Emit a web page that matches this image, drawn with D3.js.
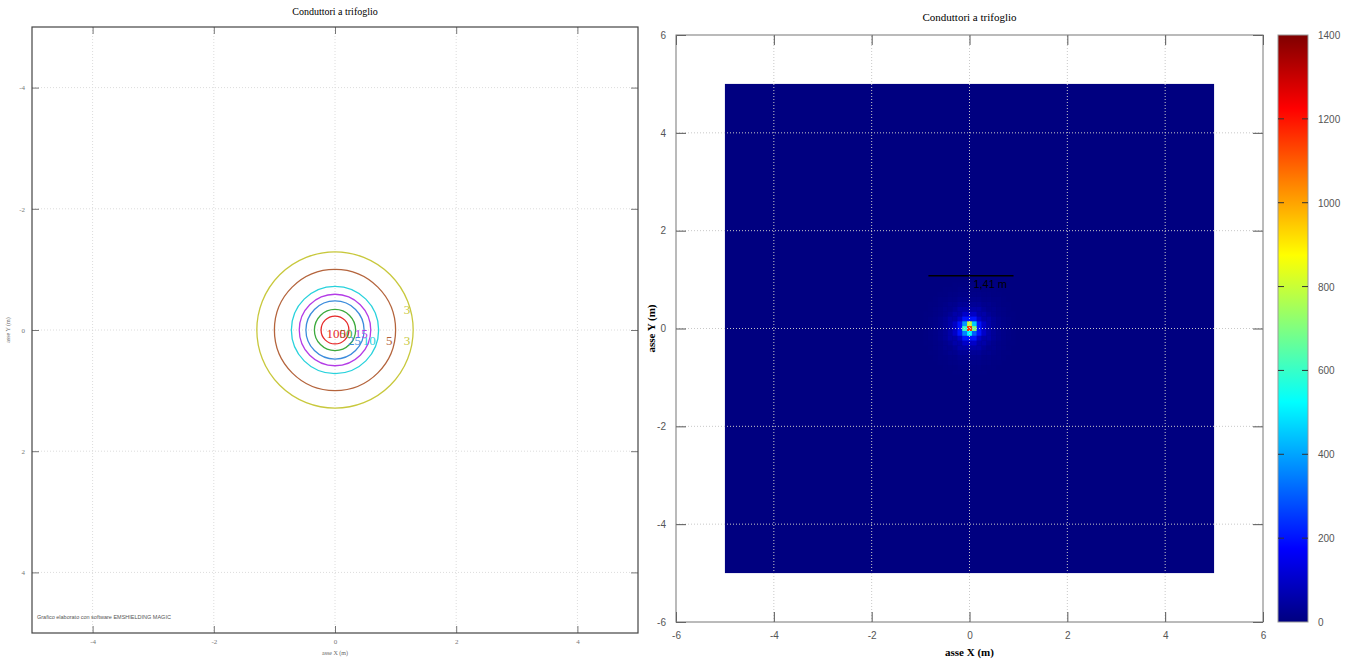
<!DOCTYPE html>
<html>
<head>
<meta charset="utf-8">
<script src="https://cdn.jsdelivr.net/npm/d3@7"></script>
<style>
  body { margin: 0; background: #fff; }
</style>
</head>
<body>
<svg width="1352" height="662"></svg>
<script>
// ---- data ----
const chartTitle = "Conduttori a trifoglio";
const leftTicks = [-4, -2, 0, 2, 4];
const contourLevels = [3, 5, 10, 15, 25, 50, 100];
const contourRadii = [1.29, 1.0, 0.72, 0.59, 0.48, 0.34, 0.23];   // metres
const contourColors = ["#c8c83c", "#b4643c", "#28d2dc", "#b43ce6", "#3c8cdc", "#3caa3c", "#e62828"];
const footNote = "Grafico elaborato con software EMSHIELDING MAGIC";

const rightTicks = [-6, -4, -2, 0, 2, 4, 6];
const colorTicks = [0, 200, 400, 600, 800, 1000, 1200, 1400];
const fieldExtent = [-5, 5];
const cellSize = 0.1;
// 3x3 cells round the centre, rows from top (y=+0.1) to bottom (y=-0.1)
const heatCore = [
  [380, 800, 450],
  [600, 1150, 700],
  [350, 520, 300]
];
// value of the cells by ring (distance in cells from the centre)
const heatRings = [0, 0, 200, 100, 55, 32, 20, 12, 7, 3];
const spanX = [-0.84, 0.9];
const spanY = 1.08;
const spanText = "1,41 m";

const svg = d3.select("svg");
const plain = d => String(d);

// jet colour map
function jet(t) {
  const c = v => Math.round(255 * Math.max(0, Math.min(1, v)));
  return `rgb(${c(1.5 - Math.abs(4 * t - 3))},${c(1.5 - Math.abs(4 * t - 2))},${c(1.5 - Math.abs(4 * t - 1))})`;
}

// ================= left chart: contour lines =================
const xL = d3.scaleLinear([-5, 5], [32, 638]);
const yL = d3.scaleLinear([-5, 5], [27, 633]);
const left = svg.append("g");

left.append("text")
    .attr("x", xL(0)).attr("y", 15)
    .attr("text-anchor", "middle")
    .attr("font-family", "Liberation Serif").attr("font-size", 10)
    .text(chartTitle);

// grid
left.selectAll(".gx").data(leftTicks).join("line")
    .attr("x1", d => xL(d)).attr("x2", d => xL(d))
    .attr("y1", yL(-5)).attr("y2", yL(5))
    .attr("stroke", "#dcdcdc").attr("stroke-dasharray", "1,2");
left.selectAll(".gy").data(leftTicks).join("line")
    .attr("y1", d => yL(d)).attr("y2", d => yL(d))
    .attr("x1", xL(-5)).attr("x2", xL(5))
    .attr("stroke", "#dcdcdc").attr("stroke-dasharray", "1,2");

function styleLeftAxis(g) {
  g.select(".domain").remove();
  g.selectAll(".tick line").attr("stroke", "#777");
  g.selectAll("text").attr("font-family", "Liberation Serif").attr("font-size", 7).attr("fill", "#777");
}
left.append("g").attr("transform", `translate(0,${yL(5)})`)
    .call(d3.axisBottom(xL).tickValues(leftTicks).tickFormat(plain).tickSize(-7).tickPadding(6))
    .call(styleLeftAxis);
left.append("g").attr("transform", `translate(0,${yL(-5)})`)
    .call(d3.axisTop(xL).tickValues(leftTicks).tickSize(-7).tickFormat(""))
    .call(styleLeftAxis);
left.append("g").attr("transform", `translate(${xL(-5)},0)`)
    .call(d3.axisLeft(yL).tickValues(leftTicks).tickFormat(plain).tickSize(-7).tickPadding(7))
    .call(styleLeftAxis);
left.append("g").attr("transform", `translate(${xL(5)},0)`)
    .call(d3.axisRight(yL).tickValues(leftTicks).tickSize(-7).tickFormat(""))
    .call(styleLeftAxis);

left.append("rect")
    .attr("x", xL(-5)).attr("y", yL(-5))
    .attr("width", xL(5) - xL(-5)).attr("height", yL(5) - yL(-5))
    .attr("fill", "none").attr("stroke", "#444").attr("stroke-width", 1.2);

// contours
const contours = contourLevels.map((v, i) => ({ v, r: contourRadii[i], c: contourColors[i] }));
left.selectAll(".ct").data(contours).join("circle")
    .attr("cx", xL(0)).attr("cy", yL(0))
    .attr("r", d => xL(d.r) - xL(0))
    .attr("fill", "none").attr("stroke", d => d.c).attr("stroke-width", 1.3);

left.selectAll(".cl").data(contours).join("text")
    .attr("x", d => xL(d.r) - 3)
    .attr("y", d => yL(0) + (d.r < 0.4 || d.v === 15 ? 8 : 15))
    .attr("text-anchor", "end")
    .attr("font-family", "Liberation Serif").attr("font-size", 13)
    .attr("fill", d => d.c)
    .text(d => d.v);
// second label on the outer line
left.append("text")
    .attr("x", xL(contours[0].r) - 3).attr("y", yL(0) - 16)
    .attr("text-anchor", "end")
    .attr("font-family", "Liberation Serif").attr("font-size", 13)
    .attr("fill", contours[0].c)
    .text(contours[0].v);

left.append("text")
    .attr("x", xL(0)).attr("y", 655)
    .attr("text-anchor", "middle")
    .attr("font-family", "Liberation Serif").attr("font-size", 6).attr("fill", "#666")
    .text("asse X (m)");
left.append("text")
    .attr("transform", `translate(10,${yL(0)}) rotate(-90)`)
    .attr("text-anchor", "middle")
    .attr("font-family", "Liberation Serif").attr("font-size", 6).attr("fill", "#666")
    .text("asse Y (m)");
left.append("text")
    .attr("x", 37).attr("y", 619)
    .attr("font-family", "Liberation Sans").attr("font-size", 5.5).attr("fill", "#555")
    .text(footNote);

// ================= right chart: heat map =================
const xR = d3.scaleLinear([-6, 6], [676, 1263]);
const yR = d3.scaleLinear([-6, 6], [622, 35]);
const color = d3.scaleSequential(jet).domain([0, 1400]);
const right = svg.append("g");

right.append("text")
    .attr("x", xR(0)).attr("y", 21)
    .attr("text-anchor", "middle")
    .attr("font-family", "Liberation Serif").attr("font-size", 11)
    .text(chartTitle);

right.append("rect")
    .attr("x", xR(fieldExtent[0])).attr("y", yR(fieldExtent[1]))
    .attr("width", xR(fieldExtent[1]) - xR(fieldExtent[0]))
    .attr("height", yR(fieldExtent[0]) - yR(fieldExtent[1]))
    .attr("fill", color(0));

const cells = [];
const n = heatRings.length - 1;
for (let i = -n; i <= n; i++) {
  for (let j = -n; j <= n; j++) {
    const d = Math.round(Math.hypot(i, j));
    if (d >= heatRings.length) continue;
    const v = d <= 1 ? heatCore[1 - j][i + 1] : heatRings[d];
    if (v > 0) cells.push({ x: i * cellSize, y: j * cellSize, v });
  }
}
right.selectAll(".cell").data(cells).join("rect")
    .attr("x", d => xR(d.x - cellSize / 2))
    .attr("y", d => yR(d.y + cellSize / 2))
    .attr("width", xR(cellSize) - xR(0))
    .attr("height", yR(0) - yR(cellSize))
    .attr("fill", d => color(d.v));

// grid
const inner = rightTicks.slice(1, -1);
right.selectAll(".gx").data(inner).join("line")
    .attr("x1", d => xR(d)).attr("x2", d => xR(d))
    .attr("y1", yR(-6)).attr("y2", yR(6))
    .attr("stroke", "#c8c8c8").attr("stroke-dasharray", "1,2");
right.selectAll(".gy").data(inner).join("line")
    .attr("y1", d => yR(d)).attr("y2", d => yR(d))
    .attr("x1", xR(-6)).attr("x2", xR(6))
    .attr("stroke", "#c8c8c8").attr("stroke-dasharray", "1,2");

function styleRightAxis(g) {
  g.select(".domain").remove();
  g.selectAll(".tick line").attr("stroke", "#555");
  g.selectAll("text").attr("font-family", "Liberation Sans").attr("font-size", 10).attr("fill", "#555");
}
right.append("g").attr("transform", `translate(0,${yR(-6)})`)
    .call(d3.axisBottom(xR).tickValues(rightTicks).tickFormat(plain).tickSize(-10).tickPadding(10))
    .call(styleRightAxis);
right.append("g").attr("transform", `translate(0,${yR(6)})`)
    .call(d3.axisTop(xR).tickValues(rightTicks).tickSize(-10).tickFormat(""))
    .call(styleRightAxis);
right.append("g").attr("transform", `translate(${xR(-6)},0)`)
    .call(d3.axisLeft(yR).tickValues(rightTicks).tickFormat(plain).tickSize(-10).tickPadding(10))
    .call(styleRightAxis);
right.append("g").attr("transform", `translate(${xR(6)},0)`)
    .call(d3.axisRight(yR).tickValues(rightTicks).tickSize(-10).tickFormat(""))
    .call(styleRightAxis);

right.append("rect")
    .attr("x", xR(-6)).attr("y", yR(6))
    .attr("width", xR(6) - xR(-6)).attr("height", yR(-6) - yR(6))
    .attr("fill", "none").attr("stroke", "#777");

// span annotation
right.append("line")
    .attr("x1", xR(spanX[0])).attr("x2", xR(spanX[1]))
    .attr("y1", yR(spanY)).attr("y2", yR(spanY))
    .attr("stroke", "#000").attr("stroke-width", 1.5);
right.append("text")
    .attr("x", xR(0.08)).attr("y", yR(spanY) + 12)
    .attr("font-family", "Liberation Sans").attr("font-size", 11).attr("fill", "#000")
    .text(spanText);

right.append("text")
    .attr("x", xR(0)).attr("y", 656)
    .attr("text-anchor", "middle")
    .attr("font-family", "Liberation Serif").attr("font-weight", "bold").attr("font-size", 11)
    .text("asse X (m)");
right.append("text")
    .attr("transform", `translate(655,${yR(0)}) rotate(-90)`)
    .attr("text-anchor", "middle")
    .attr("font-family", "Liberation Serif").attr("font-weight", "bold").attr("font-size", 11)
    .text("asse Y (m)");

// colour bar
const cbX = 1278, cbW = 30;
const yC = d3.scaleLinear([0, 1400], [622, 35]);
const grad = svg.append("defs").append("linearGradient")
    .attr("id", "jet").attr("x1", 0).attr("y1", 1).attr("x2", 0).attr("y2", 0);
grad.selectAll("stop").data(d3.range(0, 1.0001, 0.025)).join("stop")
    .attr("offset", d => d).attr("stop-color", d => jet(d));
right.append("rect")
    .attr("x", cbX).attr("y", yC(1400))
    .attr("width", cbW).attr("height", yC(0) - yC(1400))
    .attr("fill", "url(#jet)").attr("stroke", "#999");
right.selectAll(".cbt").data(colorTicks.slice(1, -1)).join("path")
    .attr("d", d => `M${cbX},${yC(d)}h6M${cbX + cbW - 6},${yC(d)}h6`)
    .attr("stroke", "#333");
right.selectAll(".cbl").data(colorTicks).join("text")
    .attr("x", cbX + cbW + 10).attr("y", d => yC(d) + 4)
    .attr("font-family", "Liberation Sans").attr("font-size", 10).attr("fill", "#555")
    .text(d => d);
</script>
</body>
</html>
